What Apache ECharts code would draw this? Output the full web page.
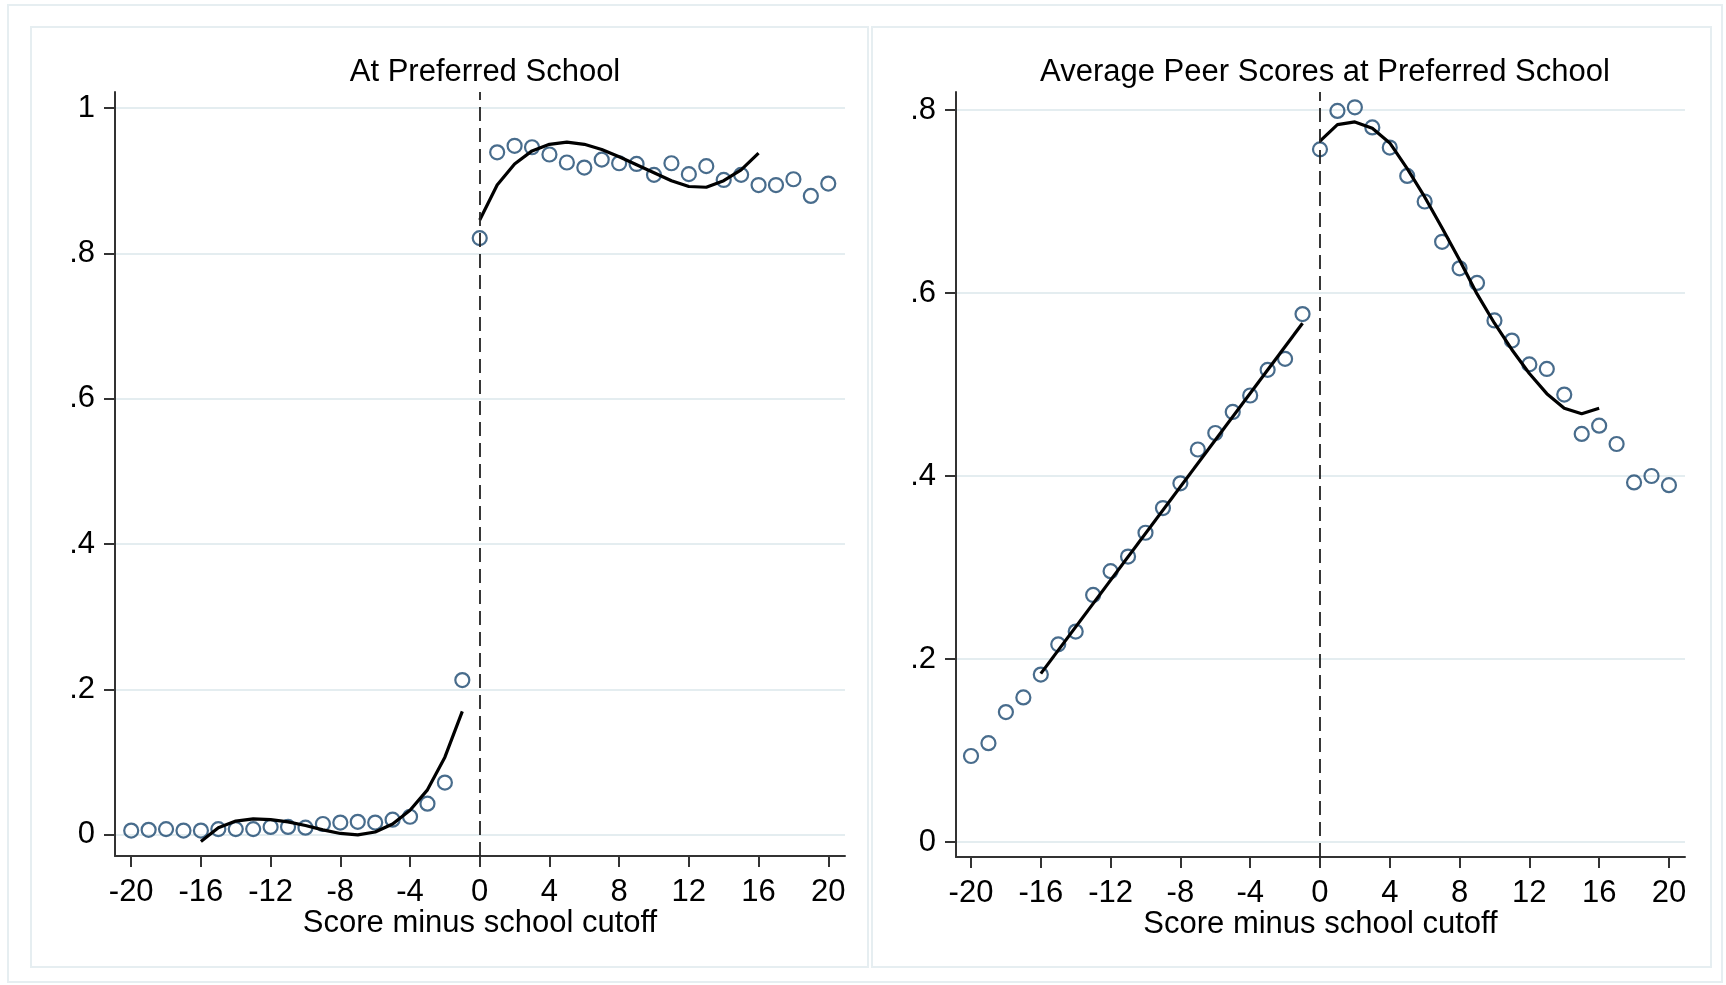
<!DOCTYPE html>
<html>
<head>
<meta charset="utf-8">
<title>Score minus school cutoff</title>
<script src="https://cdn.jsdelivr.net/npm/echarts@6/dist/echarts.min.js"></script>
<style>
  html, body { margin: 0; padding: 0; background: #fff; }
  #chart { width: 1726px; height: 985px; }
</style>
</head>
<body>
<div id="chart"></div>
<script>
// bins: score minus cutoff
const bins = [-20, -19, -18, -17, -16, -15, -14, -13, -12, -11, -10, -9, -8, -7, -6, -5, -4, -3, -2, -1,
  0, 1, 2, 3, 4, 5, 6, 7, 8, 9, 10, 11, 12, 13, 14, 15, 16, 17, 18, 19, 20]
const xTicks = [-20, -16, -12, -8, -4, 0, 4, 8, 12, 16, 20]

// left panel: at preferred school
const atPrefMeans = [0.006, 0.007, 0.008, 0.006, 0.006, 0.008, 0.008, 0.008, 0.011, 0.011, 0.010, 0.015, 0.017, 0.018, 0.017, 0.021, 0.025, 0.043, 0.072, 0.213,
  0.821, 0.939, 0.948, 0.946, 0.936, 0.925, 0.918, 0.929, 0.924, 0.923, 0.908, 0.924, 0.909, 0.920, 0.901, 0.908, 0.894, 0.894, 0.902, 0.879, 0.896]
const atPrefFitLeftX = [-16, -15, -14, -13, -12, -11, -10, -9, -8, -7, -6, -5, -4, -3, -2, -1]
const atPrefFitLeft = [-0.009, 0.010, 0.019, 0.022, 0.021, 0.018, 0.013, 0.007, 0.002, 0.000, 0.004, 0.015, 0.034, 0.062, 0.107, 0.170]
const atPrefFitRightX = [0, 1, 2, 3, 4, 5, 6, 7, 8, 9, 10, 11, 12, 13, 14, 15, 16]
const atPrefFitRight = [0.846, 0.894, 0.923, 0.941, 0.950, 0.953, 0.950, 0.943, 0.933, 0.922, 0.911, 0.900, 0.892, 0.891, 0.900, 0.915, 0.938]
const atPrefTicks = [0, 0.2, 0.4, 0.6, 0.8, 1]

// right panel: average peer scores
const peerMeans = [0.094, 0.108, 0.142, 0.158, 0.183, 0.216, 0.230, 0.270, 0.296, 0.312, 0.338, 0.365, 0.392, 0.429, 0.447, 0.470, 0.488, 0.516, 0.528, 0.577,
  0.757, 0.799, 0.803, 0.781, 0.759, 0.728, 0.700, 0.656, 0.627, 0.611, 0.570, 0.548, 0.522, 0.517, 0.489, 0.446, 0.455, 0.435, 0.393, 0.400, 0.390]
const peerFitLeftX = [-16, -1]
const peerFitLeft = [0.184, 0.567]
const peerFitRightX = [0, 1, 2, 3, 4, 5, 6, 7, 8, 9, 10, 11, 12, 13, 14, 15, 16]
const peerFitRight = [0.766, 0.784, 0.787, 0.780, 0.764, 0.736, 0.705, 0.671, 0.636, 0.599, 0.567, 0.538, 0.512, 0.490, 0.474, 0.468, 0.474]
const peerTicks = [0, 0.2, 0.4, 0.6, 0.8]

const font = 'Liberation Sans, Arial, sans-serif'
const navy = '#1a476f'
const frame = '#e6eef1'

function pairs(xs, ys) {
  return xs.map((x, i) => [x, ys[i]])
}
function yFmt(v) {
  if (v === 0) return '0'
  if (v === 1) return '1'
  return String(+v.toFixed(1)).replace('0.', '.')
}

function xAxisOf(idx, min, max) {
  return {
    type: 'value', gridIndex: idx, min: min, max: max,
    name: 'Score minus school cutoff', nameLocation: 'middle', nameGap: 52, nameMoveOverlap: false,
    nameTextStyle: { fontFamily: font, fontSize: 31, color: '#000' },
    axisLine: { onZero: false, lineStyle: { color: '#333', width: 2 } },
    axisTick: { show: true, length: 11, lineStyle: { color: '#333', width: 2 }, customValues: xTicks },
    axisLabel: { fontFamily: font, fontSize: 31, color: '#000', margin: 21, customValues: xTicks },
    splitLine: { show: false }
  }
}
function yAxisOf(idx, min, max, ticks) {
  return {
    type: 'value', gridIndex: idx, min: min, max: max,
    axisLine: { show: true, onZero: false, lineStyle: { color: '#333', width: 2 } },
    axisTick: { show: true, length: 11, lineStyle: { color: '#333', width: 2 }, customValues: ticks },
    axisLabel: { fontFamily: font, fontSize: 31, color: '#000', margin: 20, formatter: yFmt, customValues: ticks },
    splitLine: { show: true, lineStyle: { color: '#e4edf0', width: 2 } }
  }
}
function dots(idx, ys) {
  return {
    type: 'scatter', xAxisIndex: idx, yAxisIndex: idx, z: 2,
    data: pairs(bins, ys), symbol: 'circle', symbolSize: 14,
    itemStyle: { color: 'rgba(0,0,0,0)', borderColor: navy, borderWidth: 2.2 },
    markLine: {
      silent: true, symbol: ['none', 'none'], label: { show: false },
      lineStyle: { color: '#222', width: 1.8, type: [14, 7] },
      data: [{ xAxis: 0 }]
    }
  }
}
function fit(idx, xs, ys) {
  return {
    type: 'line', xAxisIndex: idx, yAxisIndex: idx, z: 3,
    data: pairs(xs, ys), showSymbol: false, symbol: 'none',
    lineStyle: { color: '#000', width: 3.2 }
  }
}

const chart = echarts.init(document.getElementById('chart'))
chart.setOption({
  animation: false,
  backgroundColor: '#fff',
  title: [
    { text: 'At Preferred School', left: 480, top: 52, textAlign: 'center',
      textStyle: { fontFamily: font, fontSize: 31, fontWeight: 'normal', color: '#000' } },
    { text: 'Average Peer Scores at Preferred School', left: 1320, top: 52, textAlign: 'center',
      textStyle: { fontFamily: font, fontSize: 31, fontWeight: 'normal', color: '#000' } }
  ],
  graphic: [
    { type: 'rect', shape: { x: 8, y: 5, width: 1714, height: 977 }, style: { fill: 'none', stroke: frame, lineWidth: 2 }, z: -1 },
    { type: 'rect', shape: { x: 31, y: 27, width: 837, height: 940 }, style: { fill: 'none', stroke: frame, lineWidth: 2 }, z: -1 },
    { type: 'rect', shape: { x: 872, y: 27, width: 839, height: 940 }, style: { fill: 'none', stroke: frame, lineWidth: 2 }, z: -1 }
  ],
  grid: [
    { left: 115, top: 92, width: 730, height: 764 },
    { left: 956, top: 92, width: 729, height: 765 }
  ],
  xAxis: [xAxisOf(0, -20.93, 20.96), xAxisOf(1, -20.86, 20.92)],
  yAxis: [yAxisOf(0, -0.029, 1.022, atPrefTicks), yAxisOf(1, -0.0164, 0.8197, peerTicks)],
  series: [
    dots(0, atPrefMeans),
    fit(0, atPrefFitLeftX, atPrefFitLeft),
    fit(0, atPrefFitRightX, atPrefFitRight),
    dots(1, peerMeans),
    fit(1, peerFitLeftX, peerFitLeft),
    fit(1, peerFitRightX, peerFitRight)
  ]
})
window.addEventListener('resize', () => { chart.resize() })
</script>
</body>
</html>
